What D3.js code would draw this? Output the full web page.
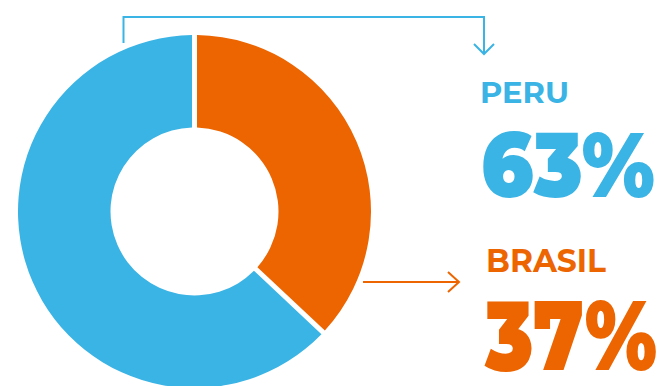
<!DOCTYPE html>
<html>
<head>
<meta charset="utf-8">
<script src="https://cdn.jsdelivr.net/npm/d3@7"></script>
<style>
  html, body { margin: 0; padding: 0; background: #fff; }
  svg { display: block; }
</style>
</head>
<body>
<svg id="chart" width="662" height="386"></svg>
<script>
const categories = ["BRASIL", "PERU"];
const values = [37, 63];
const percentLabels = ["37%", "63%"];
const colors = ["#ec6500", "#3ab3e5"];

const svg = d3.select("#chart");
const cx = 194.5, cy = 211.5, outerR = 176.5, innerR = 84;

const pie = d3.pie().sort(null).value(d => d.value);
const arcs = pie(categories.map((c, i) => ({ name: c, value: values[i], color: colors[i] })));
const arc = d3.arc().innerRadius(innerR).outerRadius(outerR).padAngle(0.05).padRadius(100);

const g = svg.append("g").attr("transform", `translate(${cx},${cy})`);
g.selectAll("path").data(arcs).join("path")
  .attr("d", arc)
  .attr("fill", d => d.data.color);

// Blue bracket connector (PERU)
svg.append("path")
  .attr("d", "M123.5,43 V17 H484 V53")
  .attr("fill", "none").attr("stroke", colors[1]).attr("stroke-width", 2);
svg.append("path")
  .attr("d", "M474,44 L484,54 L494,44")
  .attr("fill", "none").attr("stroke", colors[1]).attr("stroke-width", 2);

// Orange arrow (BRASIL)
svg.append("path")
  .attr("d", "M363,282 H459")
  .attr("fill", "none").attr("stroke", colors[0]).attr("stroke-width", 2);
svg.append("path")
  .attr("d", "M448,272 L459,282 L448,292")
  .attr("fill", "none").attr("stroke", colors[0]).attr("stroke-width", 2);

const font = "Montserrat, Lato, 'Open Sans', 'DejaVu Sans', sans-serif";

// place text so its ink spans `width` starting at x, scaling horizontally
function label(text, x, y, size, width, color, weight) {
  const t = svg.append("text")
    .attr("x", 0).attr("y", 0)
    .attr("font-family", font)
    .attr("font-size", size)
    .attr("font-weight", weight)
    .attr("fill", color)
    .text(text);
  const natural = t.node().getComputedTextLength();
  const sx = width / natural;
  t.attr("transform", `translate(${x},${y}) scale(${sx},1)`);
}

// PERU
label(categories[1], 480, 103, 29, 89, colors[1], 700);
label(percentLabels[1], 481, 197, 92, 174, colors[1], 900);
// BRASIL
label(categories[0], 486, 272, 32, 120, colors[0], 700);
label(percentLabels[0], 485, 370, 98, 172, colors[0], 900);
</script>
</body>
</html>
